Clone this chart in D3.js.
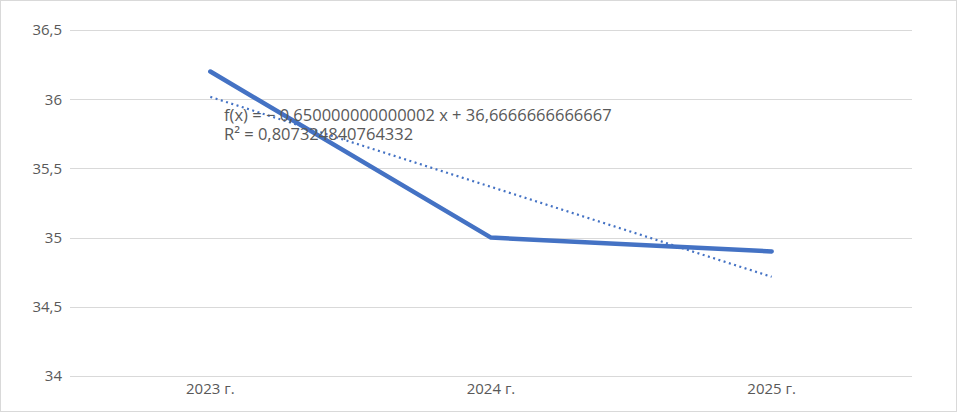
<!DOCTYPE html>
<html><head><meta charset="utf-8">
<script src="https://cdn.jsdelivr.net/npm/d3@7"></script>
<style>body{margin:0;background:#fff}svg{display:block}text{font-family:"Open Sans",sans-serif;fill:#595959}</style>
</head><body><svg id="c" width="957" height="412"></svg>
<script>
const categories = ["2023 г.", "2024 г.", "2025 г."];
const values = [36.2, 35.0, 34.9];
const yTicks = [34, 34.5, 35, 35.5, 36, 36.5];
const trendSlope = -0.650000000000002;
const trendIntercept = 36.6666666666667;
const trendLabel = ["f(x) = − 0,650000000000002 x + 36,6666666666667", "R² = 0,807324840764332"];

const svg = d3.select("#c");
const W = 957, H = 412;
svg.append("rect").attr("x",0.5).attr("y",0.5).attr("width",W-1).attr("height",H-1).attr("fill","#fff").attr("stroke","#d9d9d9");
const m = {l:70, r:45, t:30, b:36};
const x = d3.scaleBand().domain(categories).range([m.l, W-m.r]);
const y = d3.scaleLinear().domain([34, 36.5]).range([H-m.b, m.t]);
const fmt = d => String(d).replace(".", ",");

svg.append("g").selectAll("line").data(yTicks).join("line")
  .attr("x1", m.l).attr("x2", W-m.r).attr("y1", d=>Math.round(y(d))+0.5).attr("y2", d=>Math.round(y(d))+0.5)
  .attr("stroke","#d9d9d9").attr("stroke-width",1);

const ya = svg.append("g").attr("transform",`translate(${m.l},0)`).call(d3.axisLeft(y).tickValues(yTicks).tickFormat(fmt).tickSize(0).tickPadding(8));
ya.select(".domain").remove();
ya.selectAll("text").style("font-size","15px").attr("fill","#595959").style("font-family","Open Sans");

const xa = svg.append("g").attr("transform",`translate(0,${H-m.b})`).call(d3.axisBottom(x).tickSize(0).tickPadding(7));
xa.select(".domain").remove();
xa.selectAll("text").style("font-size","15px").attr("fill","#595959").style("font-family","Open Sans");

const cx = d => x(d) + x.bandwidth()/2;
const line = d3.line().x((d,i)=>cx(categories[i])).y(d=>y(d));
// trend
const trend = categories.map((c,i)=> trendIntercept + trendSlope*(i+1));
svg.append("path").datum(trend).attr("d", line).attr("fill","none").attr("stroke","#4472c4").attr("stroke-width",2.2).attr("stroke-dasharray","2 3.5").attr("stroke-linecap","butt");
svg.append("path").datum(values).attr("d", line).attr("fill","none").attr("stroke","#4472c4").attr("stroke-width",4.5).attr("stroke-linejoin","round").attr("stroke-linecap","round");

const tl = svg.append("text").attr("x", 224).attr("y", 121).style("font-size","16.5px");
trendLabel.forEach((t,i)=> tl.append("tspan").attr("x",224).attr("dy", i? 19:0).text(t));
</script></body></html>
